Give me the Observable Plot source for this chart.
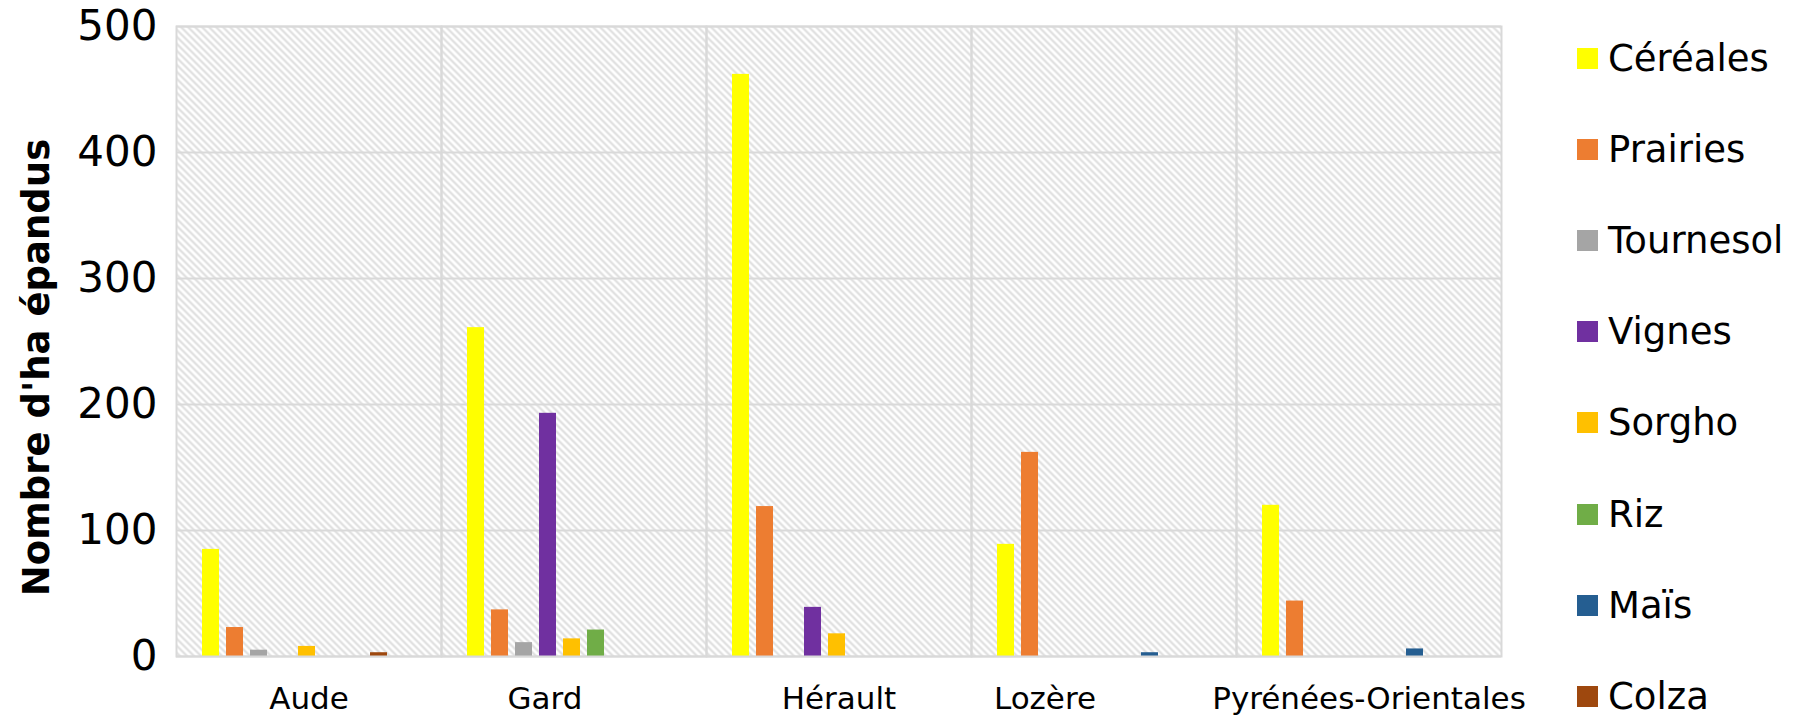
<!DOCTYPE html>
<html><head><meta charset="utf-8">
<script src="https://cdn.jsdelivr.net/npm/d3@7"></script>
<script src="https://cdn.jsdelivr.net/npm/@observablehq/plot@0.6"></script>
<style>
body{margin:0;background:#fff;}
#wrap{position:relative;width:1815px;height:716px;font-family:"DejaVu Sans",Verdana,sans-serif;overflow:hidden;}
#legend{position:absolute;left:1577px;top:0;width:238px;height:716px;}
.row{position:absolute;left:0;height:34px;display:flex;align-items:center;font-size:37px;color:#000;white-space:nowrap;line-height:1;}
.sw{width:21px;height:21px;margin-right:10px;flex:none;}
</style></head><body><div id="wrap"><div id="legend"></div></div>
<script>
const departements = ["Aude", "Gard", "Hérault", "Lozère", "Pyrénées-Orientales"];
const cultures = ["Céréales", "Prairies", "Tournesol", "Vignes", "Sorgho", "Riz", "Maïs", "Colza"];
const couleurs = ["#FFFF00", "#ED7D31", "#A5A5A5", "#7030A0", "#FFC000", "#70AD47", "#255E91", "#9E480E"];
const cereales  = [85, 261, 462, 89, 120];
const prairies  = [23, 37, 119, 162, 44];
const tournesol = [5, 11, 0, 0, 0];
const vignes    = [0, 193, 39, 0, 0];
const sorgho    = [8, 14, 18, 0, 0];
const riz       = [0, 21, 0, 0, 0];
const mais      = [0, 0, 0, 3, 6];
const colza     = [3, 0, 0, 0, 0];
const yTicks = [0, 100, 200, 300, 400, 500];
const yLabel = "Nombre d'ha épandus";

const valeurs = [cereales, prairies, tournesol, vignes, sorgho, riz, mais, colza];
const data = cultures.flatMap((c, i) => departements.map((d, j) => ({departement: d, culture: c, valeur: valeurs[i][j]})));

const fxAxisStyle = {anchor: "bottom", tickSize: 0, tickPadding: 30, fontSize: 31, label: null};
const only = (names) => (d) => names.includes(d) ? d : "";

const chart = Plot.plot({
  width: 1815, height: 716,
  marginLeft: 176, marginRight: 314, marginTop: 26, marginBottom: 60,
  style: {fontFamily: "'DejaVu Sans', Verdana, sans-serif", background: "transparent", color: "#000"},
  fx: {domain: departements, padding: 0, label: null},
  x: {domain: cultures, paddingInner: 0.2857, paddingOuter: 1.443, align: 0.326, axis: null},
  y: {domain: [0, 500], label: null},
  color: {domain: cultures, range: couleurs},
  marks: [
    Plot.frame({fill: "url(#hachures)"}),
    Plot.ruleY(yTicks, {stroke: "#d9d9d9", strokeWidth: 2}),
    Plot.barY(data, {fx: "departement", x: "culture", y: "valeur", fill: "culture"}),
    Plot.frame({stroke: "#d9d9d9", strokeWidth: 2}),
    Plot.axisY(yTicks, {tickSize: 0, tickPadding: 19, fontSize: 42, label: null}),
    Plot.axisFx({...fxAxisStyle, tickFormat: only([departements[0], departements[2], departements[4]])}),
    Plot.axisFx({...fxAxisStyle, tickFormat: only([departements[1]]), dx: -29}),
    Plot.axisFx({...fxAxisStyle, tickFormat: only([departements[3]]), dx: -59}),
    Plot.text([yLabel], {fx: [departements[0]], text: d => d, frameAnchor: "left", textAnchor: "middle", rotate: -90, dx: -139, dy: 26, fontSize: 37, fontWeight: "bold", fill: "#000"})
  ]
});

d3.select(chart).insert("defs", ":first-child").html(
  '<pattern id="hachures" patternUnits="userSpaceOnUse" width="7" height="7">' +
  '<rect width="7" height="7" fill="#fff"/>' +
  '<path d="M-1,-1 L8,8 M-1,6 L1,8 M6,-1 L8,1" stroke="#dedede" stroke-width="2.2"/>' +
  '</pattern>'
);
document.getElementById("wrap").prepend(chart);

const legend = d3.select("#legend");
cultures.forEach((c, i) => {
  const row = legend.append("div").attr("class", "row").style("top", (58 + 91.2 * i - 17) + "px");
  row.append("div").attr("class", "sw").style("background", couleurs[i]);
  row.append("span").text(c);
});
</script></body></html>
